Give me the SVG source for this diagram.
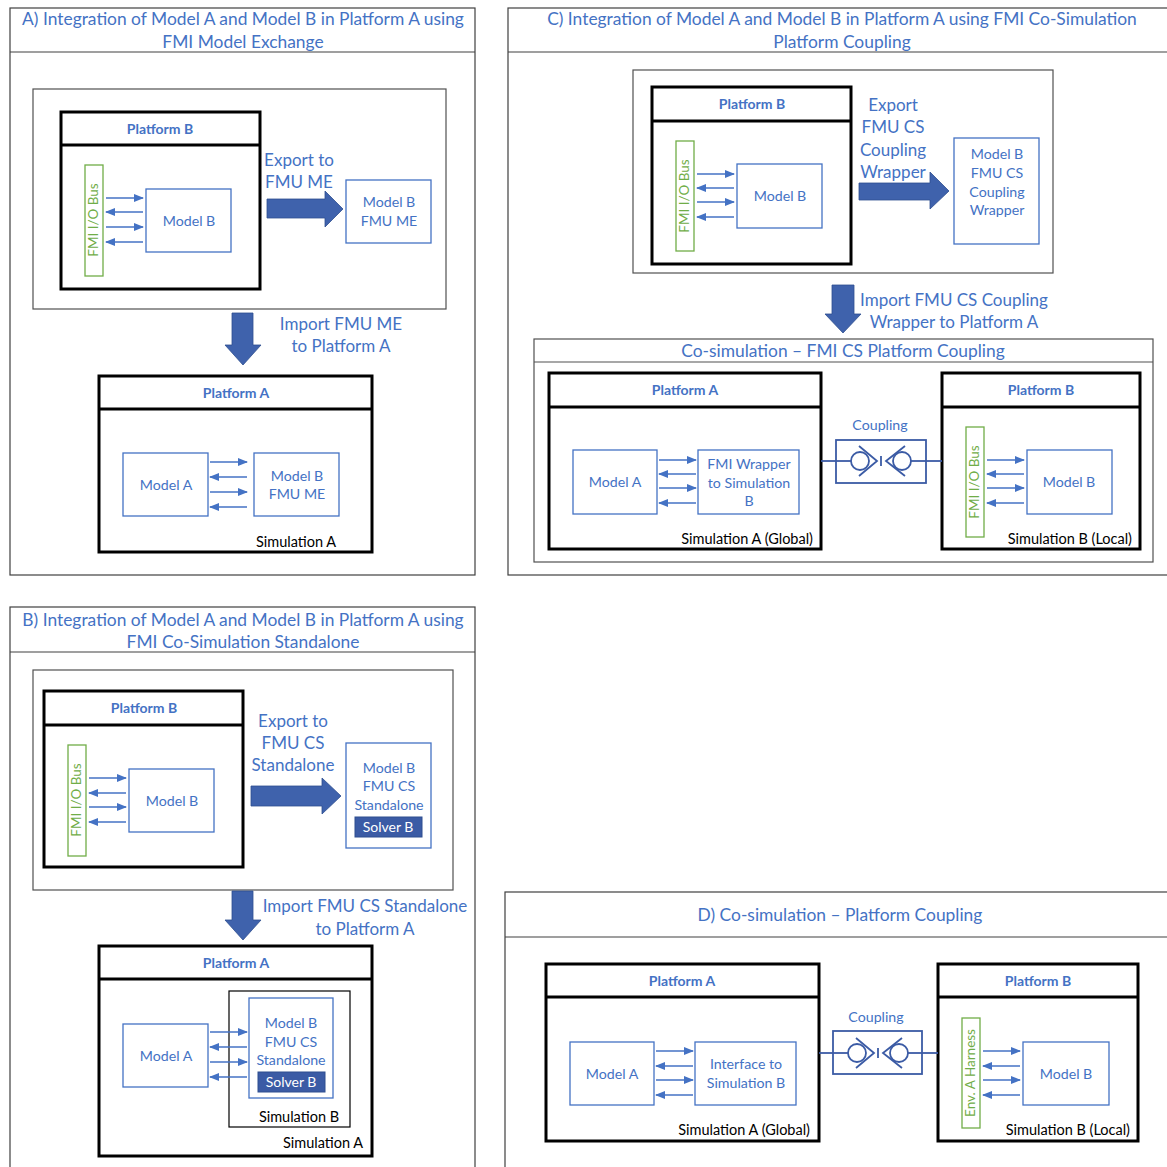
<svg xmlns="http://www.w3.org/2000/svg" width="1167" height="1167" viewBox="0 0 1167 1167">
<defs>
<marker id="ah" markerWidth="10" markerHeight="8" refX="9" refY="4" orient="auto" markerUnits="userSpaceOnUse"><path d="M0,0 L10,4 L0,8 Z" fill="#4472C4"/></marker>
<style>
.panel{fill:#fff;stroke:#404040;stroke-width:1.2}
.sub{fill:none;stroke:#505050;stroke-width:1.2}
.plat{fill:none;stroke:#000;stroke-width:3}
.box{fill:#fff;stroke:#4472C4;stroke-width:1.3}
.bus{fill:#fff;stroke:#70AD47;stroke-width:1.3}
.t{font-family:Lato,"Liberation Sans",sans-serif;fill:#4472C4;text-anchor:middle}
.ttl{font-size:17.4px}
.big{font-size:17px}
.pl{font-size:14px;font-weight:bold}
.m{font-size:14.2px}
.s{font-family:Lato,"Liberation Sans",sans-serif;fill:#000;font-size:14.5px}
.g{font-family:Lato,"Liberation Sans",sans-serif;fill:#70AD47;font-size:13.5px;text-anchor:middle}
.w{font-family:Lato,"Liberation Sans",sans-serif;fill:#fff;font-size:14px;text-anchor:middle}
.ar{stroke:#4472C4;stroke-width:1.6;marker-end:url(#ah)}
.fat{fill:#3F62AC;stroke:#2F4F8F;stroke-width:0.8}
.solver{fill:#3B5BA5;stroke:#2F4F8F;stroke-width:1}
.cp{fill:none;stroke:#3B5BA5;stroke-width:1.8}
</style>
</defs>
<rect width="1167" height="1167" fill="#fff"/>

<!-- ===== Panel A ===== -->
<g id="panelA">
<rect class="panel" x="10" y="8" width="465" height="567"/>
<line x1="10" y1="52" x2="475" y2="52" stroke="#404040" stroke-width="1.2"/>
<text class="t ttl" x="243" y="25">A) Integration of Model A and Model B in Platform A using</text>
<text class="t ttl" x="243" y="48">FMI Model Exchange</text>
<rect class="sub" x="33" y="89" width="413" height="220"/>
</g>
<g id="A-platformB">
<rect class="plat" x="61" y="112" width="199" height="177"/>
<line x1="61" y1="145" x2="260" y2="145" stroke="#000" stroke-width="3"/>
<text class="t pl" x="160" y="134">Platform B</text>
</g>
<g id="A-bus"><rect class="bus" x="85" y="165" width="18" height="111"/><text class="g" transform="translate(98,220) rotate(-90)">FMI I/O Bus</text></g>
<g id="A-modelB"><rect class="box" x="146" y="189" width="85" height="63"/><text class="t m" x="189" y="226">Model B</text></g>
<g id="A-export"><text class="t big" x="299" y="166">Export to</text><text class="t big" x="299" y="188">FMU ME</text></g>
<g id="A-fmume"><rect class="box" x="346" y="180" width="85" height="63"/><text class="t m" x="389" y="207">Model B</text><text class="t m" x="389" y="226">FMU ME</text></g>
<g id="A-import"><text class="t big" x="341" y="330">Import FMU ME</text><text class="t big" x="341" y="352">to Platform A</text></g>
<g id="A-platformA">
<rect class="plat" x="99" y="376" width="273" height="176"/>
<line x1="99" y1="409" x2="372" y2="409" stroke="#000" stroke-width="3"/>
<text class="t pl" x="236" y="398">Platform A</text>
<text class="s" x="256" y="547">Simulation A</text>
</g>
<g id="A-modelA"><rect class="box" x="123" y="453" width="85" height="63"/><text class="t m" x="166" y="490">Model A</text></g>
<g id="A-fmume2"><rect class="box" x="254" y="453" width="85" height="63"/><text class="t m" x="297" y="481">Model B</text><text class="t m" x="297" y="499">FMU ME</text></g>

<!-- ===== Panel C ===== -->
<g id="panelC">
<rect class="panel" x="508" y="8" width="670" height="567"/>
<line x1="508" y1="52" x2="1167" y2="52" stroke="#404040" stroke-width="1.2"/>
<text class="t ttl" x="842" y="25">C) Integration of Model A and Model B in Platform A using FMI Co-Simulation</text>
<text class="t ttl" x="842" y="48">Platform Coupling</text>
<rect class="sub" x="633" y="70" width="420" height="203"/>
</g>
<g id="C-platformB">
<rect class="plat" x="652" y="87" width="199" height="177"/>
<line x1="652" y1="121" x2="851" y2="121" stroke="#000" stroke-width="3"/>
<text class="t pl" x="752" y="109">Platform B</text>
</g>
<g id="C-bus"><rect class="bus" x="676" y="141" width="18" height="110"/><text class="g" transform="translate(689,196) rotate(-90)">FMI I/O Bus</text></g>
<g id="C-modelB"><rect class="box" x="737" y="164" width="85" height="64"/><text class="t m" x="780" y="201">Model B</text></g>
<g id="C-export"><text class="t big" x="893" y="111">Export</text><text class="t big" x="893" y="133">FMU CS</text><text class="t big" x="893" y="156">Coupling</text><text class="t big" x="893" y="178">Wrapper</text></g>
<g id="C-wrapper"><rect class="box" x="954" y="138" width="85" height="106"/><text class="t m" x="997" y="159">Model B</text><text class="t m" x="997" y="178">FMU CS</text><text class="t m" x="997" y="197">Coupling</text><text class="t m" x="997" y="215">Wrapper</text></g>
<g id="C-import"><text class="t big" x="954" y="306">Import FMU CS Coupling</text><text class="t big" x="954" y="328">Wrapper to Platform A</text></g>
<g id="C-cosim">
<rect class="sub" x="534" y="339" width="619" height="223"/>
<line x1="534" y1="362" x2="1153" y2="362" stroke="#505050" stroke-width="1.2"/>
<text class="t ttl" x="843" y="357">Co-simulation – FMI CS Platform Coupling</text>
</g>
<g id="C-platformA">
<rect class="plat" x="549" y="373" width="272" height="176"/>
<line x1="549" y1="407" x2="821" y2="407" stroke="#000" stroke-width="3"/>
<text class="t pl" x="685" y="395">Platform A</text>
<text class="s" x="813" y="544" text-anchor="end">Simulation A (Global)</text>
</g>
<g id="C-modelA"><rect class="box" x="573" y="450" width="84" height="64"/><text class="t m" x="615" y="487">Model A</text></g>
<g id="C-fmiwrap"><rect class="box" x="698" y="450" width="101" height="64"/><text class="t m" x="749" y="469">FMI Wrapper</text><text class="t m" x="749" y="488">to Simulation</text><text class="t m" x="749" y="506">B</text></g>
<g id="C-platformB2">
<rect class="plat" x="942" y="373" width="198" height="176"/>
<line x1="942" y1="407" x2="1140" y2="407" stroke="#000" stroke-width="3"/>
<text class="t pl" x="1041" y="395">Platform B</text>
<text class="s" x="1132" y="544" text-anchor="end">Simulation B (Local)</text>
</g>
<g id="C-bus2"><rect class="bus" x="966" y="427" width="18" height="110"/><text class="g" transform="translate(979,482) rotate(-90)">FMI I/O Bus</text></g>
<g id="C-modelB2"><rect class="box" x="1027" y="450" width="85" height="64"/><text class="t m" x="1069" y="487">Model B</text></g>
<g id="C-coupling">
<text class="t m" x="880" y="430">Coupling</text>
<rect class="cp" x="836" y="440" width="90" height="43"/>
<circle class="cp" cx="860" cy="461" r="9"/>
<circle class="cp" cx="902" cy="461" r="9"/>
<path class="cp" d="M859,446 L877,461 L859,476 M905,446 L886,461 L905,476 M881,456 V466"/>
</g>

<!-- ===== Panel B ===== -->
<g id="panelB">
<rect class="panel" x="10" y="607" width="465" height="570"/>
<line x1="10" y1="652" x2="475" y2="652" stroke="#404040" stroke-width="1.2"/>
<text class="t ttl" x="243" y="626">B) Integration of Model A and Model B in Platform A using</text>
<text class="t ttl" x="243" y="648">FMI Co-Simulation Standalone</text>
<rect class="sub" x="33" y="670" width="420" height="220"/>
</g>
<g id="B-platformB">
<rect class="plat" x="44" y="691" width="199" height="176"/>
<line x1="44" y1="725" x2="243" y2="725" stroke="#000" stroke-width="3"/>
<text class="t pl" x="144" y="713">Platform B</text>
</g>
<g id="B-bus"><rect class="bus" x="68" y="745" width="18" height="111"/><text class="g" transform="translate(81,800) rotate(-90)">FMI I/O Bus</text></g>
<g id="B-modelB"><rect class="box" x="129" y="769" width="85" height="63"/><text class="t m" x="172" y="806">Model B</text></g>
<g id="B-export"><text class="t big" x="293" y="727">Export to</text><text class="t big" x="293" y="749">FMU CS</text><text class="t big" x="293" y="771">Standalone</text></g>
<g id="B-fmucs"><rect class="box" x="346" y="743" width="85" height="105"/><text class="t m" x="389" y="773">Model B</text><text class="t m" x="389" y="791">FMU CS</text><text class="t m" x="389" y="810">Standalone</text><rect class="solver" x="355" y="817" width="67" height="20"/><text class="w" x="388" y="832">Solver B</text></g>
<g id="B-import"><text class="t big" x="365" y="912">Import FMU CS Standalone</text><text class="t big" x="365" y="935">to Platform A</text></g>
<g id="B-platformA">
<rect class="plat" x="99" y="946" width="273" height="210"/>
<line x1="99" y1="979" x2="372" y2="979" stroke="#000" stroke-width="3"/>
<text class="t pl" x="236" y="968">Platform A</text>
<text class="s" x="283" y="1148">Simulation A</text>
</g>
<g id="B-modelA"><rect class="box" x="123" y="1024" width="85" height="63"/><text class="t m" x="166" y="1061">Model A</text></g>
<g id="B-simB"><rect fill="none" stroke="#000" stroke-width="1.2" x="229" y="991" width="121" height="136"/><text class="s" x="299" y="1122" text-anchor="middle">Simulation B</text></g>
<g id="B-fmucs2"><rect class="box" x="249" y="998" width="84" height="100"/><text class="t m" x="291" y="1028">Model B</text><text class="t m" x="291" y="1047">FMU CS</text><text class="t m" x="291" y="1065">Standalone</text><rect class="solver" x="258" y="1072" width="67" height="20"/><text class="w" x="291" y="1087">Solver B</text></g>

<!-- ===== Panel D ===== -->
<g id="panelD">
<rect class="panel" x="505" y="892" width="675" height="285"/>
<line x1="505" y1="937" x2="1167" y2="937" stroke="#404040" stroke-width="1.2"/>
<text class="t ttl" x="840" y="921">D) Co-simulation – Platform Coupling</text>
</g>
<g id="D-platformA">
<rect class="plat" x="546" y="964" width="273" height="177"/>
<line x1="546" y1="997" x2="819" y2="997" stroke="#000" stroke-width="3"/>
<text class="t pl" x="682" y="986">Platform A</text>
<text class="s" x="810" y="1135" text-anchor="end">Simulation A (Global)</text>
</g>
<g id="D-modelA"><rect class="box" x="570" y="1042" width="84" height="63"/><text class="t m" x="612" y="1079">Model A</text></g>
<g id="D-interface"><rect class="box" x="695" y="1042" width="101" height="63"/><text class="t m" x="746" y="1069">Interface to</text><text class="t m" x="746" y="1088">Simulation B</text></g>
<g id="D-platformB">
<rect class="plat" x="938" y="964" width="200" height="177"/>
<line x1="938" y1="997" x2="1138" y2="997" stroke="#000" stroke-width="3"/>
<text class="t pl" x="1038" y="986">Platform B</text>
<text class="s" x="1130" y="1135" text-anchor="end">Simulation B (Local)</text>
</g>
<g id="D-harness"><rect class="bus" x="962" y="1018" width="18" height="110"/><text class="g" transform="translate(975,1073) rotate(-90)">Env. A Harness</text></g>
<g id="D-modelB"><rect class="box" x="1023" y="1042" width="86" height="63"/><text class="t m" x="1066" y="1079">Model B</text></g>
<g id="D-coupling">
<text class="t m" x="876" y="1022">Coupling</text>
<rect class="cp" x="833" y="1031" width="89" height="43"/>
<circle class="cp" cx="857" cy="1053" r="9"/>
<circle class="cp" cx="899" cy="1053" r="9"/>
<path class="cp" d="M856,1038 L874,1053 L856,1068 M902,1038 L883,1053 L902,1068 M878,1048 V1058"/>
</g>

<!-- ===== Connectors ===== -->
<g id="connectors">
<line class="ar" x1="106" y1="198" x2="143" y2="198"/><line class="ar" x1="143" y1="212" x2="106" y2="212"/><line class="ar" x1="106" y1="227" x2="143" y2="227"/><line class="ar" x1="143" y1="242" x2="106" y2="242"/>
<path class="fat" d="M267,199 H325 V191 L343,209 L325,227 V218 H267 Z"/>
<path class="fat" d="M232,313 H253 V345 H261 L243,365 L225,345 H232 Z"/>
<line class="ar" x1="210" y1="462" x2="247" y2="462"/><line class="ar" x1="247" y1="477" x2="210" y2="477"/><line class="ar" x1="210" y1="492" x2="247" y2="492"/><line class="ar" x1="247" y1="507" x2="210" y2="507"/>
<line class="ar" x1="697" y1="174" x2="734" y2="174"/><line class="ar" x1="734" y1="188" x2="697" y2="188"/><line class="ar" x1="697" y1="202" x2="734" y2="202"/><line class="ar" x1="734" y1="217" x2="697" y2="217"/>
<path class="fat" d="M859,183 H930 V172 L949,191 L930,209 V200 H859 Z"/>
<path class="fat" d="M832,285 H854 V314 H861 L843,333 L825,314 H832 Z"/>
<line class="ar" x1="659" y1="460" x2="696" y2="460"/><line class="ar" x1="696" y1="474" x2="659" y2="474"/><line class="ar" x1="659" y1="488" x2="696" y2="488"/><line class="ar" x1="696" y1="503" x2="659" y2="503"/>
<line class="ar" x1="987" y1="460" x2="1024" y2="460"/><line class="ar" x1="1024" y1="474" x2="987" y2="474"/><line class="ar" x1="987" y1="488" x2="1024" y2="488"/><line class="ar" x1="1024" y1="503" x2="987" y2="503"/>
<line class="cp" x1="821" y1="461" x2="851" y2="461"/><line class="cp" x1="911" y1="461" x2="942" y2="461"/>
<line class="ar" x1="89" y1="778" x2="126" y2="778"/><line class="ar" x1="126" y1="793" x2="89" y2="793"/><line class="ar" x1="89" y1="807" x2="126" y2="807"/><line class="ar" x1="126" y1="822" x2="89" y2="822"/>
<path class="fat" d="M251,786 H322 V778 L341,796 L322,814 V806 H251 Z"/>
<path class="fat" d="M232,891 H253 V920 H261 L243,940 L225,920 H232 Z"/>
<line class="ar" x1="210" y1="1032" x2="247" y2="1032"/><line class="ar" x1="247" y1="1047" x2="210" y2="1047"/><line class="ar" x1="210" y1="1062" x2="247" y2="1062"/><line class="ar" x1="247" y1="1077" x2="210" y2="1077"/>
<line class="ar" x1="656" y1="1051" x2="693" y2="1051"/><line class="ar" x1="693" y1="1066" x2="656" y2="1066"/><line class="ar" x1="656" y1="1080" x2="693" y2="1080"/><line class="ar" x1="693" y1="1095" x2="656" y2="1095"/>
<line class="ar" x1="983" y1="1051" x2="1020" y2="1051"/><line class="ar" x1="1020" y1="1066" x2="983" y2="1066"/><line class="ar" x1="983" y1="1080" x2="1020" y2="1080"/><line class="ar" x1="1020" y1="1095" x2="983" y2="1095"/>
<line class="cp" x1="819" y1="1053" x2="848" y2="1053"/><line class="cp" x1="908" y1="1053" x2="938" y2="1053"/>
</g>
</svg>
